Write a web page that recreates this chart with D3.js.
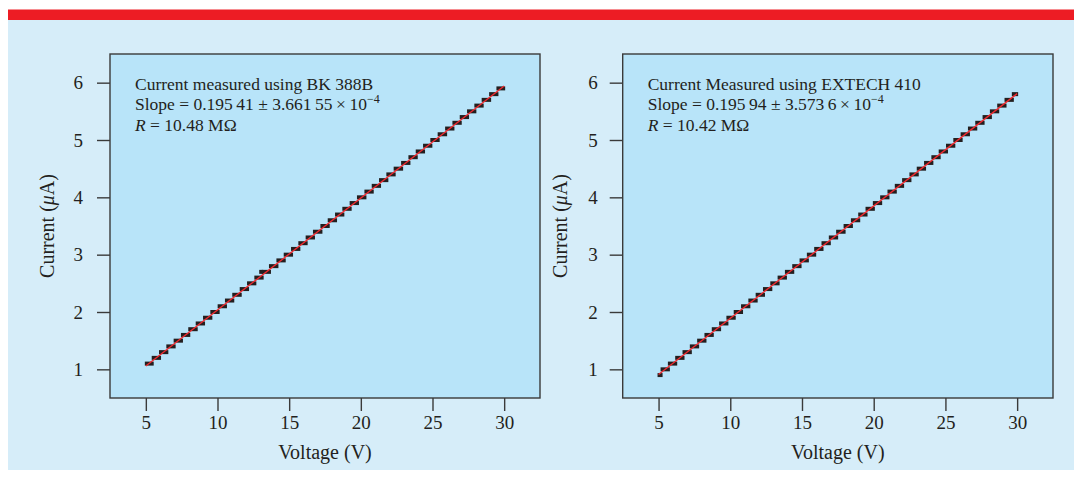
<!DOCTYPE html>
<html>
<head>
<meta charset="utf-8">
<script src="https://cdn.jsdelivr.net/npm/d3@7"></script>
<style>
  body { margin: 0; background: #fff; }
  svg { display: block; }
  text { font-family: "Liberation Serif", "Times New Roman", serif; fill: #231f20; }
</style>
</head>
<body>
<svg id="chart" width="1074" height="478"></svg>
<script>
// current readings (uA) are quantized to 0.1, so each reading is a flat step
var leftCurrent = [1.1,1.2,1.3,1.4,1.5,1.6,1.7,1.8,1.9,2.0,2.1,2.2,2.3,2.4,2.5,2.6,2.7,2.8,2.9,3.0,
  3.1,3.2,3.3,3.4,3.5,3.6,3.7,3.8,3.9,4.0,4.1,4.2,4.3,4.4,4.5,4.6,4.7,4.8,4.9,5.0,
  5.1,5.2,5.3,5.4,5.5,5.6,5.7,5.8,5.9];
// voltage where each step starts / ends (one more than the levels)
var leftVoltEdges = [5.0,5.48,5.99,6.5,7.01,7.52,8.03,8.55,9.06,9.57,10.08,10.59,11.1,11.62,12.13,12.64,
  13.15,13.66,14.18,14.69,15.2,15.71,16.22,16.73,17.25,17.76,18.27,18.78,19.29,19.8,20.32,
  20.83,21.34,21.85,22.36,22.88,23.39,23.9,24.41,24.92,25.43,25.95,26.46,26.97,27.48,
  27.99,28.5,29.02,29.53,30.0];
var leftOutlier = [{v: 13.05, i: 2.7}];

var rightCurrent = [0.9,1.0,1.1,1.2,1.3,1.4,1.5,1.6,1.7,1.8,1.9,2.0,2.1,2.2,2.3,2.4,2.5,2.6,2.7,2.8,
  2.9,3.0,3.1,3.2,3.3,3.4,3.5,3.6,3.7,3.8,3.9,4.0,4.1,4.2,4.3,4.4,4.5,4.6,4.7,4.8,
  4.9,5.0,5.1,5.2,5.3,5.4,5.5,5.6,5.7,5.8];
var rightVoltEdges = [5.0,5.21,5.72,6.23,6.74,7.25,7.76,8.27,8.78,9.29,9.8,10.31,10.82,11.33,11.84,12.35,
  12.86,13.37,13.88,14.39,14.9,15.41,15.92,16.43,16.94,17.45,17.97,18.48,18.99,19.5,20.01,
  20.52,21.03,21.54,22.05,22.56,23.07,23.58,24.09,24.6,25.11,25.62,26.13,26.64,27.15,
  27.66,28.17,28.68,29.19,29.7,30.0];

// fitted lines: [voltage, current] at the ends
var leftFit = [[5, 1.057], [30, 5.942]];
var rightFit = [[5, 0.91], [30, 5.808]];

var xTicks = [5, 10, 15, 20, 25, 30];
var yTicks = [1, 2, 3, 4, 5, 6];

var svg = d3.select("#chart");

// page background, red rule
svg.append("rect").attr("x", 8).attr("y", 20).attr("width", 1066).attr("height", 450).attr("fill", "#d6edf9");
svg.append("rect").attr("x", 8).attr("y", 9.5).attr("width", 1066).attr("height", 10.5).attr("fill", "#ed1c24");

function steps(levels, edges) {
  return levels.map(function(c, k) { return {i: c, v0: edges[k], v1: edges[k + 1]}; });
}

function panel(opt) {
  var x = d3.scaleLinear().domain([2.5, 32.5]).range([opt.left, opt.right]);
  var y = d3.scaleLinear().domain([0.5, 6.5]).range([398, 54]);
  var g = svg.append("g");

  g.append("rect")
    .attr("x", opt.left).attr("y", 54)
    .attr("width", opt.right - opt.left).attr("height", 344)
    .attr("fill", "#b8e4f9");

  var xAxis = g.append("g").attr("transform", "translate(0,398)")
    .call(d3.axisBottom(x).tickValues(xTicks).tickFormat(d3.format("d"))
      .tickSize(13).tickSizeOuter(0).tickPadding(5));
  var yAxis = g.append("g").attr("transform", "translate(" + opt.left + ",0)")
    .call(d3.axisLeft(y).tickValues(yTicks).tickFormat(d3.format("d"))
      .tickSize(13).tickSizeOuter(0).tickPadding(opt.ypad));
  [xAxis, yAxis].forEach(function(a) {
    a.attr("font-family", null).attr("font-size", null);
    a.select(".domain").remove();
    a.selectAll(".tick line").attr("stroke", "#3a3a3a").attr("stroke-width", 1.4);
    a.selectAll(".tick text").style("font-size", "19px").attr("fill", "#231f20");
  });

  g.append("rect")
    .attr("x", opt.left).attr("y", 54)
    .attr("width", opt.right - opt.left).attr("height", 344)
    .attr("fill", "none").attr("stroke", "#3a3a3a").attr("stroke-width", 1.4);

  // steps of readings
  g.selectAll(".step").data(steps(opt.levels, opt.edges)).enter().append("rect")
    .attr("class", "step")
    .attr("x", function(d) { return x(d.v0) - 1; })
    .attr("y", function(d) { return y(d.i) - 2; })
    .attr("width", function(d) { return x(d.v1) - x(d.v0) + 2; })
    .attr("height", 4)
    .attr("fill", "#231f20");
  g.selectAll(".out").data(opt.outliers || []).enter().append("rect")
    .attr("x", function(d) { return x(d.v) - 2; })
    .attr("y", function(d) { return y(d.i) - 2; })
    .attr("width", 4).attr("height", 4)
    .attr("fill", "#231f20");

  g.append("path")
    .datum(opt.fit)
    .attr("d", d3.line().x(function(d) { return x(d[0]); }).y(function(d) { return y(d[1]); }))
    .attr("stroke", "#ee2a2f").attr("stroke-width", 1.4).attr("fill", "none");

  // axis titles
  g.append("text")
    .attr("x", (x(5) + x(30)) / 2).attr("y", 459)
    .attr("text-anchor", "middle").style("font-size", "20px")
    .text("Voltage (V)");
  var yt = g.append("text")
    .attr("transform", "translate(" + (opt.left - 56) + ",226) rotate(-90)")
    .attr("text-anchor", "middle").style("font-size", "20px");
  yt.append("tspan").text("Current (");
  yt.append("tspan").style("font-style", "italic").text("\u03bc");
  yt.append("tspan").text("A)");

  // annotation
  var tx = opt.left + 25;
  g.append("text").attr("x", tx).attr("y", 90).style("font-size", "17.5px").text(opt.title);
  var s = g.append("text").attr("x", tx).attr("y", 110).style("font-size", "17.5px");
  s.append("tspan").text(opt.slope);
  s.append("tspan").attr("dy", -7).style("font-size", "12px").text("\u22124");
  var r = g.append("text").attr("x", tx).attr("y", 131).style("font-size", "17.5px");
  r.append("tspan").style("font-style", "italic").text("R");
  r.append("tspan").text(" = " + opt.res + " M\u03a9");
}

panel({
  left: 110, right: 540, ypad: 14,
  levels: leftCurrent, edges: leftVoltEdges, outliers: leftOutlier, fit: leftFit,
  title: "Current measured using BK 388B",
  slope: "Slope = 0.195\u200941 \u00b1 3.661\u200955\u2009\u00d7\u200910",
  res: "10.48"
});
panel({
  left: 622.7, right: 1053, ypad: 12,
  levels: rightCurrent, edges: rightVoltEdges, fit: rightFit,
  title: "Current Measured using EXTECH 410",
  slope: "Slope = 0.195\u200994 \u00b1 3.573\u20096\u2009\u00d7\u200910",
  res: "10.42"
});
</script>
</body>
</html>
